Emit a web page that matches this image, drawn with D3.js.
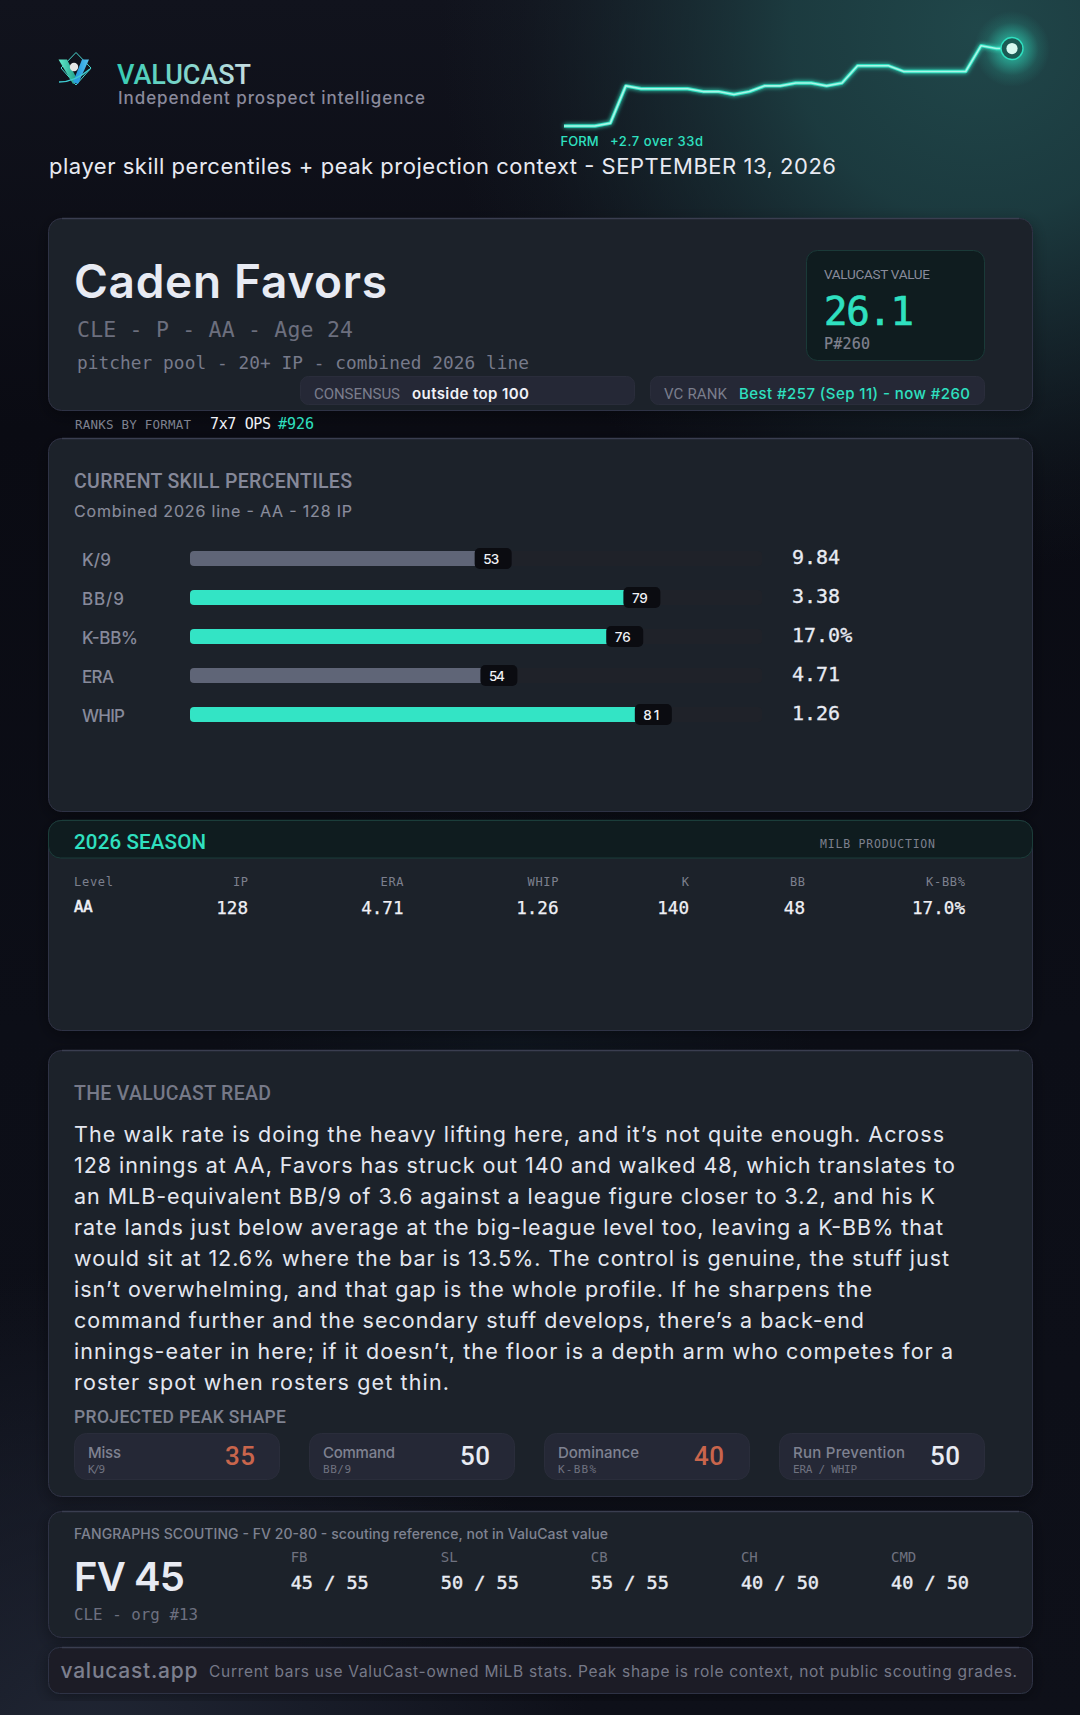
<!DOCTYPE html>
<html>
<head>
<meta charset="utf-8">
<script src="https://cdn.jsdelivr.net/npm/d3@7/dist/d3.min.js"></script>
<style>html,body{margin:0;padding:0;background:#0c0e16}svg{display:block}</style>
</head>
<body>
<script>
// ---------- data ----------
const formValues = [23.4,23.4,23.4,23.5,24.8,24.7,24.7,24.7,24.7,24.6,24.6,24.5,24.6,24.8,24.8,24.9,24.9,24.8,24.9,25.5,25.5,25.5,25.3,25.3,25.3,25.3,25.3,26.2,26.1,26.1];
const skillLabels = ["K/9","BB/9","K-BB%","ERA","WHIP"];
const skillPercentiles = [53,79,76,54,81];
const skillStats = ["9.84","3.38","17.0%","4.71","1.26"];
const seasonHeaders = ["Level","IP","ERA","WHIP","K","BB","K-BB%"];
const seasonRow = ["AA","128","4.71","1.26","140","48","17.0%"];
const readLines = [
 "The walk rate is doing the heavy lifting here, and it’s not quite enough. Across",
 "128 innings at AA, Favors has struck out 140 and walked 48, which translates to",
 "an MLB-equivalent BB/9 of 3.6 against a league figure closer to 3.2, and his K",
 "rate lands just below average at the big-league level too, leaving a K-BB% that",
 "would sit at 12.6% where the bar is 13.5%. The control is genuine, the stuff just",
 "isn’t overwhelming, and that gap is the whole profile. If he sharpens the",
 "command further and the secondary stuff develops, there’s a back-end",
 "innings-eater in here; if it doesn’t, the floor is a depth arm who competes for a",
 "roster spot when rosters get thin."];
const peakNames = ["Miss","Command","Dominance","Run Prevention"];
const peakSubs = ["K/9","BB/9","K-BB%","ERA / WHIP"];
const peakGrades = [35,50,40,50];
const pitchNames = ["FB","SL","CB","CH","CMD"];
const pitchNow = [45,50,55,40,40];
const pitchFuture = [55,55,55,50,50];

// ---------- layout (separate from data) ----------
const W = 1080, H = 1715;
const SANS = "Inter, 'Noto Sans', sans-serif", MONO = "'DejaVu Sans Mono', 'Liberation Mono', monospace", CAPS = "Roboto, Inter, sans-serif";
const TEAL = "#2fe0c0", INK = "#e8ebf3";
const svg = d3.select("body").append("svg").attr("width",W).attr("height",H).attr("viewBox",`0 0 ${W} ${H}`);
const defs = svg.append("defs");

function radial(id, cx, cy, r, stops){
  const g = defs.append("radialGradient").attr("id",id).attr("gradientUnits","userSpaceOnUse")
    .attr("cx",cx).attr("cy",cy).attr("r",r);
  stops.forEach(s=>g.append("stop").attr("offset",s[0]).attr("stop-color",s[1]).attr("stop-opacity",s[2]));
}
function linear(id, x1,y1,x2,y2, stops){
  const g = defs.append("linearGradient").attr("id",id).attr("gradientUnits","userSpaceOnUse")
    .attr("x1",x1).attr("y1",y1).attr("x2",x2).attr("y2",y2);
  stops.forEach(s=>g.append("stop").attr("offset",s[0]).attr("stop-color",s[1]).attr("stop-opacity",s.length>2?s[2]:1));
}
linear("bgBase",0,0,0,H,[[0,"#11131d"],[0.25,"#0a0b13"],[0.6,"#0c0e17"],[1,"#0e1019"]]);
radial("tealGlow",980,30,540,[[0,"#20474a",1],[0.35,"#1d3f43",.9],[0.65,"#1b3238",.5],[0.85,"#1a2a30",.18],[1,"#1a2a30",0]]);
radial("bottomGlow",90,1770,500,[[0,"#212735",1],[0.6,"#1d2230",.5],[1,"#1d2230",0]]);
radial("midGlow",520,1045,300,[[0,"#17303a",.2],[1,"#17303a",0]]);
radial("dotGlow",1012,49,38,[[0,"#2fe0c0",.75],[0.35,"#2fe0c0",.5],[0.7,"#2fe0c0",.12],[1,"#2fe0c0",0]]);
linear("wordmark",117,0,251,0,[[0,"#35cdb3"],[1,"#c9dde2"]]);
linear("logoL",57,0,77,0,[[0,"#5fe8c8"],[1,"#128f7c"]]);
linear("logoR",75,0,91,0,[[0,"#2a9de0"],[1,"#6ad4f5"]]);
const glow = defs.append("filter").attr("id","lineGlow").attr("x","-10%").attr("y","-40%").attr("width","120%").attr("height","180%");
glow.append("feGaussianBlur").attr("stdDeviation",2.2).attr("result","b");
const mg = glow.append("feMerge"); mg.append("feMergeNode").attr("in","b"); mg.append("feMergeNode").attr("in","SourceGraphic");
const shadow = defs.append("filter").attr("id","cardShadow").attr("x","-5%").attr("y","-10%").attr("width","110%").attr("height","125%");
shadow.append("feDropShadow").attr("dx",0).attr("dy",4).attr("stdDeviation",8).attr("flood-color","#000").attr("flood-opacity",.35);

// background
[["bgBase"],["tealGlow"],["bottomGlow"],["midGlow"]].forEach(d=>
  svg.append("rect").attr("width",W).attr("height",H).attr("fill",`url(#${d[0]})`));

function txt(parent, x, y, s, o={}){
  const t = parent.append("text").attr("x",x).attr("y",y).text(s)
    .attr("font-family",o.font||SANS).attr("font-size",o.size||14).attr("font-weight",o.weight||400)
    .attr("fill",o.fill||INK).attr("text-anchor",o.anchor||"start").attr("xml:space","preserve");
  if(o.width) t.attr("textLength",o.width).attr("lengthAdjust","spacing");
  if(o.embolden) t.attr("stroke",o.fill||INK).attr("stroke-width",o.embolden);
  return t;
}
function card(y0, y1, o={}){
  const g = svg.append("g");
  g.append("rect").attr("x",48.5).attr("y",y0+.5).attr("width",984).attr("height",y1-y0-1).attr("rx",o.rx||13)
    .attr("fill",o.fill||"#1d202c").attr("stroke",o.stroke||"#2f3344").attr("stroke-width",1).attr("filter","url(#cardShadow)");
  g.append("line").attr("x1",62).attr("x2",1019).attr("y1",y0+.5).attr("y2",y0+.5).attr("stroke",o.top||"#3a3e50").attr("stroke-width",1.4);
  return g;
}
function pill(g,x,y,w,h,fill,stroke,rx){
  return g.append("rect").attr("x",x+.5).attr("y",y+.5).attr("width",w-1).attr("height",h-1).attr("rx",rx).attr("fill",fill).attr("stroke",stroke);
}

// ---------- header ----------
const logo = svg.append("g").attr("transform","translate(3,0)");
logo.append("path").attr("d","M73 52.5 L88 68 L73 85 L58 68 Z").attr("fill","none").attr("stroke","#49d8d0").attr("stroke-width",1);
logo.append("path").attr("d","M55.5 59.5 L64 59.5 L75 81 L70 84 Z").attr("fill","url(#logoL)");
logo.append("path").attr("d","M86 59.5 L79 59.5 L70 82 L75 84 Z").attr("fill","url(#logoR)");
logo.append("circle").attr("cx",71).attr("cy",67).attr("r",4.2).attr("fill","#e6e6e6");
logo.append("path").attr("d","M56 82 Q72 82 87 69").attr("fill","none").attr("stroke","#3fcad0").attr("stroke-width",1.6);

txt(svg,117,84,"VALUCAST",{font:CAPS,size:27,weight:500,fill:"url(#wordmark)",width:134});
txt(svg,118,104,"Independent prospect intelligence",{size:17,weight:500,fill:"#8a8a9c",width:307});
txt(svg,49,174,"player skill percentiles + peak projection context - SEPTEMBER 13, 2026",{size:22,fill:"#e8eaf2",width:787});

// sparkline
const sparkX = d3.scaleLinear().domain([0,formValues.length-1]).range([564,1012]);
const sparkY = d3.scaleLinear().domain([23.4,26.2]).range([126,45.7]);
const sparkLine = d3.line().x((d,i)=>sparkX(i)).y(d=>sparkY(d));
const spark = svg.append("g");
const lastI = formValues.length-1;
spark.append("circle").attr("cx",sparkX(lastI)).attr("cy",sparkY(formValues[lastI])).attr("r",38).attr("fill","url(#dotGlow)");
spark.append("path").datum(formValues).attr("d",sparkLine).attr("fill","none").attr("stroke",TEAL).attr("stroke-width",3.4).attr("filter","url(#lineGlow)").attr("stroke-linejoin","round");
spark.append("path").datum(formValues).attr("d",sparkLine).attr("fill","none").attr("stroke","#a9f5e6").attr("stroke-width",1.6).attr("stroke-linejoin","round");
spark.append("circle").attr("cx",sparkX(lastI)).attr("cy",sparkY(formValues[lastI])).attr("r",11).attr("fill","#1b5a54").attr("stroke",TEAL).attr("stroke-width",1.4);
spark.append("circle").attr("cx",sparkX(lastI)).attr("cy",sparkY(formValues[lastI])).attr("r",5.6).attr("fill","#d6f8f0");
txt(svg,560.5,146,"FORM",{size:13,weight:500,fill:TEAL,width:38});
txt(svg,610,146,"+2.7 over 33d",{size:13,weight:500,fill:TEAL,width:93});

// ---------- player card ----------
const c1 = card(218,411);
txt(c1,74,298,"Caden Favors",{size:46,weight:600,fill:INK,width:313});
txt(c1,77,337,"CLE - P - AA - Age 24",{font:MONO,size:21.5,fill:"#6c6f7e",width:276});
txt(c1,77,369,"pitcher pool - 20+ IP - combined 2026 line",{font:MONO,size:17.8,fill:"#777a8a",width:452});
pill(c1,300,376,335,29,"#252836","#2a2d3b",8);
txt(c1,314,399,"CONSENSUS",{font:CAPS,size:15,fill:"#7a7d8c",width:86});
txt(c1,412,399,"outside top 100",{size:15,weight:600,fill:"#f0f1f6",width:117});
pill(c1,650,376,335,29,"#252836","#2a2d3b",8);
txt(c1,664,399,"VC RANK",{font:CAPS,size:15,fill:"#7a7d8c",width:63});
txt(c1,739,399,"Best #257 (Sep 11) - now #260",{size:15,weight:500,fill:TEAL,width:231});
pill(c1,806,250,179,111,"#0f1c1f","#1a3a38",11);
txt(c1,824,279,"VALUCAST VALUE",{font:CAPS,size:13.5,fill:"#8a8c9c",width:106});
txt(c1,824,325,"26.1",{font:MONO,size:39,fill:TEAL,width:90,embolden:.7});
txt(c1,824,349,"P#260",{font:MONO,size:15,fill:"#80828f",width:46,embolden:.2});

// ranks row
txt(svg,75,429,"RANKS BY FORMAT",{font:MONO,size:12.5,fill:"#7f8290",width:116});
txt(svg,210,429,"7x7 OPS",{font:MONO,size:15,fill:"#f0f1f6",width:61});
txt(svg,278,429,"#926",{font:MONO,size:15,fill:TEAL,width:36});

// ---------- percentile card ----------
const c2 = card(438,812);
txt(c2,74,488,"CURRENT SKILL PERCENTILES",{font:CAPS,size:19.5,weight:500,fill:"#858899",width:278});
txt(c2,74,517,"Combined 2026 line - AA - 128 IP",{size:16,fill:"#8a8d9c",width:278,embolden:.15});
const barX = d3.scaleLinear().domain([0,100]).range([190,762]);
const rowY = d3.scalePoint().domain(skillLabels).range([551,707]);
const labelW = {"K/9":29,"BB/9":42,"K-BB%":56,"ERA":32,"WHIP":43};
const rows = c2.selectAll("g.skill").data(skillLabels).join("g").attr("class","skill");
rows.append("rect").attr("x",barX(0)).attr("y",d=>rowY(d)).attr("width",barX(100)-barX(0)).attr("height",15).attr("rx",4).attr("fill","#1f2229");
rows.append("rect").attr("x",barX(0)).attr("y",d=>rowY(d)).attr("height",15).attr("rx",4)
  .attr("width",(d,i)=>barX(skillPercentiles[i])-barX(0))
  .attr("fill",(d,i)=>skillPercentiles[i]>=60?"#33e4c5":"#5f6577");
rows.append("rect").attr("x",(d,i)=>barX(skillPercentiles[i])-18.5).attr("y",d=>rowY(d)-3).attr("width",37).attr("height",21).attr("rx",5).attr("fill","#0b0c11");
rows.each(function(d,i){
  const g = d3.select(this), y = rowY(d);
  txt(g,82,y+15,d,{size:17,weight:500,fill:"#878a9b",width:labelW[d]});
  txt(g,barX(skillPercentiles[i])-10,y+12.5,String(skillPercentiles[i]),{size:13.5,weight:500,fill:"#f0f1f6",width:16});
  txt(g,792,y+13,skillStats[i],{font:MONO,size:20,fill:INK,embolden:.3});
});

// ---------- season card ----------
const c3 = card(820,1031,{top:"#1d3a38"});
c3.append("path").attr("d","M48.5 833 a12.5 12.5 0 0 1 12.5 -12.5 H1020 a12.5 12.5 0 0 1 12.5 12.5 V846 a12 12 0 0 1 -12 12 H60.5 a12 12 0 0 1 -12 -12 Z")
  .attr("fill","#0f1c1f").attr("stroke","#1b3d3a");
txt(c3,74,849,"2026 SEASON",{font:CAPS,size:20.5,weight:500,fill:TEAL,width:132});
txt(c3,820,848,"MILB PRODUCTION",{font:MONO,size:11.5,fill:"#7d808e",width:115});
const colX = d3.scaleOrdinal().domain(seasonHeaders).range([74,248,403.5,558.5,689,805,965]);
const hdrW = {"Level":39,"IP":15,"ERA":23,"WHIP":31,"K":8,"BB":15,"K-BB%":39};
seasonHeaders.forEach((h,i)=>{
  const x = colX(h);
  txt(c3,x,886,h,{font:MONO,size:12,fill:"#7d808e",anchor:i?"end":"start",width:hdrW[h]});
  txt(c3,x,i?914:912,seasonRow[i],{font:MONO,size:i?17.6:15.5,fill:"#f0f1f6",anchor:i?"end":"start",embolden:i?.25:.6});
});

// ---------- read card ----------
const c4 = card(1050,1497);
txt(c4,74,1100,"THE VALUCAST READ",{font:CAPS,size:19.5,weight:500,fill:"#767988",width:197});
const lineEnds = [944,955,935,943,949,872,864,953,449];
readLines.forEach((l,i)=>txt(c4,74,1141.5+i*31,l,{size:21.5,fill:"#e4e7f0",width:lineEnds[i]-74}));
txt(c4,74,1423,"PROJECTED PEAK SHAPE",{font:CAPS,size:17.5,weight:500,fill:"#7f8291",width:212});
const peakX = d3.scaleBand().domain(peakNames).range([74,985]).paddingInner(29/235).paddingOuter(0);
const peakNameW = [33,72,81,112], peakSubW = [17,28,38,64];
const gradeX = [225,460,694,930];
peakNames.forEach((n,i)=>{
  const x = peakX(n);
  pill(c4,x,1433,peakX.bandwidth(),47,"#252836","#2a2d3b",12);
  txt(c4,x+14,1458,n,{size:15,weight:500,fill:"#7f8291",width:peakNameW[i]});
  txt(c4,x+14,1473,peakSubs[i],{font:MONO,size:11,fill:"#6f7280",width:peakSubW[i]});
  txt(c4,gradeX[i],1465,String(peakGrades[i]),{font:CAPS,size:26,weight:500,fill:peakGrades[i]<45?"#c9654c":INK,width:30});
});

// ---------- scouting card ----------
const c5 = card(1511,1638);
txt(c5,74,1539,"FANGRAPHS SCOUTING - FV 20-80 - scouting reference, not in ValuCast value",{size:14,weight:500,fill:"#7f8291",width:534});
txt(c5,74,1591,"FV 45",{size:40,weight:600,fill:INK,width:111});
txt(c5,74,1620,"CLE - org #13",{font:MONO,size:15.8,fill:"#6d7080",width:124});
const pitchX = d3.scalePoint().domain(pitchNames).range([290.7,891]);
pitchNames.forEach((p,i)=>{
  txt(c5,pitchX(p),1562,p,{font:MONO,size:14,fill:"#6f7280"});
  txt(c5,pitchX(p),1589,`${pitchNow[i]} / ${pitchFuture[i]}`,{font:MONO,size:18.5,fill:INK,width:78,embolden:.45});
});

// ---------- footer ----------
const c6 = card(1647,1694,{fill:"#1a1d28",rx:11});
txt(c6,60.5,1678,"valucast.app",{size:21,weight:500,fill:"#7c7f8e",width:137});
txt(c6,209,1677,"Current bars use ValuCast-owned MiLB stats. Peak shape is role context, not public scouting grades.",{size:15.5,fill:"#767988",width:808});
</script>
</body>
</html>
